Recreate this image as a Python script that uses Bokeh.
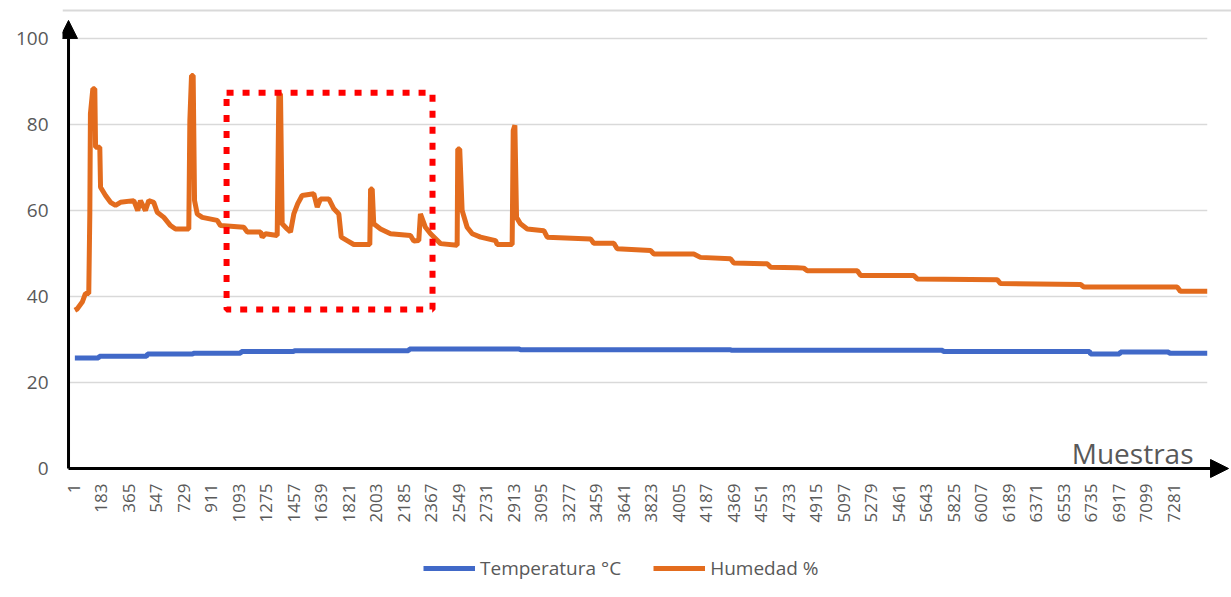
import math
from bokeh.plotting import figure
from bokeh.models import (Range1d, FixedTicker, Arrow, NormalHead, Label,
                          BoxAnnotation, Span, ColumnDataSource)
from bokeh.core.properties import value
from bokeh.embed import file_html
from bokeh.resources import INLINE

# ---------------- data ----------------
tick_labels = ["1", "183", "365", "547", "729", "911", "1093", "1275", "1457",
               "1639", "1821", "2003", "2185", "2367", "2549", "2731", "2913",
               "3095", "3277", "3459", "3641", "3823", "4005", "4187", "4369",
               "4551", "4733", "4915", "5097", "5279", "5461", "5643", "5825",
               "6007", "6189", "6371", "6553", "6735", "6917", "7099", "7281"]
y_ticks = [0, 20, 40, 60, 80, 100]

# Humedad % (sample index, value)
hum_x = [10, 25, 59, 80, 102, 109, 113, 129, 142, 147,
         175, 180, 213, 246, 279, 312, 400, 426, 444, 477,
         499, 532, 555, 599, 643, 676, 764, 771, 782, 793,
         802, 820, 853, 952, 974, 1128, 1151, 1239, 1250, 1272,
         1349, 1360, 1371, 1382, 1415, 1437, 1459, 1485, 1514, 1591,
         1614, 1636, 1691, 1724, 1757, 1773, 1812, 1856, 1962, 1967,
         1978, 1988, 2033, 2099, 2231, 2253, 2286, 2297, 2330, 2364,
         2430, 2540, 2544, 2557, 2573, 2606, 2640, 2695, 2794, 2805,
         2904, 2911, 2922, 2933, 2959, 3004, 3114, 3136, 3423, 3444,
         3577, 3599, 3820, 3842, 4106, 4150, 4349, 4371, 4592, 4615,
         4790, 4834, 4857, 5188, 5210, 5562, 5585, 6114, 6136, 6666,
         6687, 7305, 7327, 7504]
hum_y = [36.8, 37.1, 38.7, 40.7, 40.7, 59.3, 82.5, 88.3, 88.3, 74.7,
         74.7, 65.4, 63.5, 61.9, 61.2, 61.9, 62.3, 60.0, 62.3, 60.0,
         62.3, 61.9, 59.6, 58.4, 56.5, 55.7, 55.7, 80.9, 91.4, 91.4,
         62.3, 59.2, 58.4, 57.7, 56.5, 56.1, 55.0, 55.0, 53.8, 54.6,
         54.2, 87.1, 87.1, 56.9, 55.7, 55.0, 59.2, 61.6, 63.5, 63.9,
         60.8, 62.7, 62.7, 60.4, 59.2, 53.8, 53.0, 52.1, 52.1, 65.0,
         65.0, 56.9, 55.7, 54.6, 54.2, 52.9, 53.0, 59.2, 56.1, 54.6,
         52.3, 51.9, 74.3, 74.3, 60.0, 56.1, 54.6, 53.8, 53.0, 52.1,
         52.1, 78.6, 79.8, 58.4, 56.9, 55.7, 55.3, 53.8, 53.4, 52.4,
         52.4, 51.1, 50.7, 49.9, 49.9, 49.1, 48.8, 47.8, 47.6, 46.8,
         46.7, 46.6, 46.0, 46.0, 44.9, 44.9, 44.1, 43.9, 43.0, 42.8,
         42.2, 42.2, 41.2, 41.2]

# Temperatura °C (sample index, value)
temp_x = [10, 166, 173, 484, 491, 789, 795, 1106, 1113, 1457,
          1464, 2218, 2225, 2953, 2959, 4349, 4355, 5752, 5759, 6725,
          6732, 6924, 6930, 7248, 7254, 7504]
temp_y = [25.7, 25.7, 26.1, 26.1, 26.6, 26.6, 26.8, 26.8, 27.2, 27.2,
          27.4, 27.4, 27.8, 27.8, 27.6, 27.6, 27.5, 27.5, 27.2, 27.2,
          26.6, 26.6, 27.1, 27.1, 26.8, 26.8]

# highlighted region (dotted red box): samples and values
box_x = [1014, 2377]
box_y = [37.0, 87.4]

assert len(hum_x) == len(hum_y) and len(temp_x) == len(temp_y)

# ---------------- styling / layout ----------------
FONT = "Open Sans"
TXT = "#595959"
AX_X = -32          # where the value axis crosses the sample axis
X_TIP = 7645        # tip of the sample-axis arrow
Y_TIP = 104.2       # tip of the value-axis arrow
LABEL_Y = -3.5      # top of the rotated sample labels

p = figure(width=1231, height=597, output_backend="svg", toolbar_location=None,
           x_range=Range1d(-71.8, 7664.6), y_range=Range1d(-30.0, 108.84),
           min_border_left=62, min_border_right=0, min_border_top=0,
           min_border_bottom=0)
p.outline_line_color = None
p.background_fill_color = "white"
p.border_fill_color = "white"
p.xgrid.visible = False
p.ygrid.visible = False
p.xaxis.visible = False

# horizontal grid lines
grid_src = ColumnDataSource(dict(y=y_ticks[1:],
                                 x0=[AX_X] * (len(y_ticks) - 1),
                                 x1=[hum_x[-1]] * (len(y_ticks) - 1)))
p.segment(x0="x0", y0="y", x1="x1", y1="y", source=grid_src,
          line_color="#d9d9d9", line_width=1.5)

# top border line of the chart area
p.add_layout(Span(location=106.5, dimension="width", line_color="#d9d9d9",
                  line_width=2))

# series
p.line(temp_x, temp_y, line_color="#4169C8", line_width=5,
       legend_label="Temperatura °C")
p.line(hum_x, hum_y, line_color="#E36C1E", line_width=5,
       legend_label="Humedad %")

# axes arrows
p.add_layout(Arrow(end=NormalHead(size=18, fill_color="black", line_color="black"),
                   x_start=AX_X, y_start=0, x_end=X_TIP, y_end=0,
                   line_width=3, line_color="black"))
p.add_layout(Arrow(end=NormalHead(size=18, fill_color="black", line_color="black"),
                   x_start=AX_X, y_start=0, x_end=AX_X, y_end=Y_TIP,
                   line_width=3, line_color="black"))

# sample-axis tick labels (rotated)
lab_src = ColumnDataSource(dict(x=[int(t) for t in tick_labels],
                                y=[LABEL_Y] * len(tick_labels),
                                text=tick_labels))
p.text(x="x", y="y", text="text", source=lab_src, angle=math.pi / 2,
       text_align="right", text_baseline="middle", text_font=value(FONT),
       text_font_size="17px", text_color=TXT)

# dotted red highlight box
p.add_layout(BoxAnnotation(left=box_x[0], right=box_x[1], bottom=box_y[0], top=box_y[1],
                           fill_color=None, fill_alpha=0, line_color="#FF0000",
                           line_width=6, line_dash="7 9", line_alpha=1))

# axis title inside the plot
p.add_layout(Label(x=7413, y=3.5, text="Muestras", text_font=FONT,
                   text_font_size="28px", text_color=TXT, text_align="right",
                   text_baseline="alphabetic"))

# y axis
ya = p.yaxis[0]
ya.ticker = FixedTicker(ticks=y_ticks)
ya.axis_line_color = None
ya.major_tick_line_color = None
ya.minor_tick_line_color = None
ya.major_label_text_font = FONT
ya.major_label_text_font_size = "19px"
ya.major_label_text_color = TXT
ya.major_label_standoff = 8

# legend
lg = p.legend[0]
lg.orientation = "horizontal"
lg.location = (361, 16)
lg.border_line_color = None
lg.background_fill_alpha = 0
lg.label_text_font = FONT
lg.label_text_font_size = "19px"
lg.label_text_color = TXT
lg.glyph_width = 52
lg.glyph_height = 20
lg.label_standoff = 5
lg.spacing = 32
lg.padding = 4
lg.margin = 0

open("out.html", "w").write(file_html(p, INLINE))
